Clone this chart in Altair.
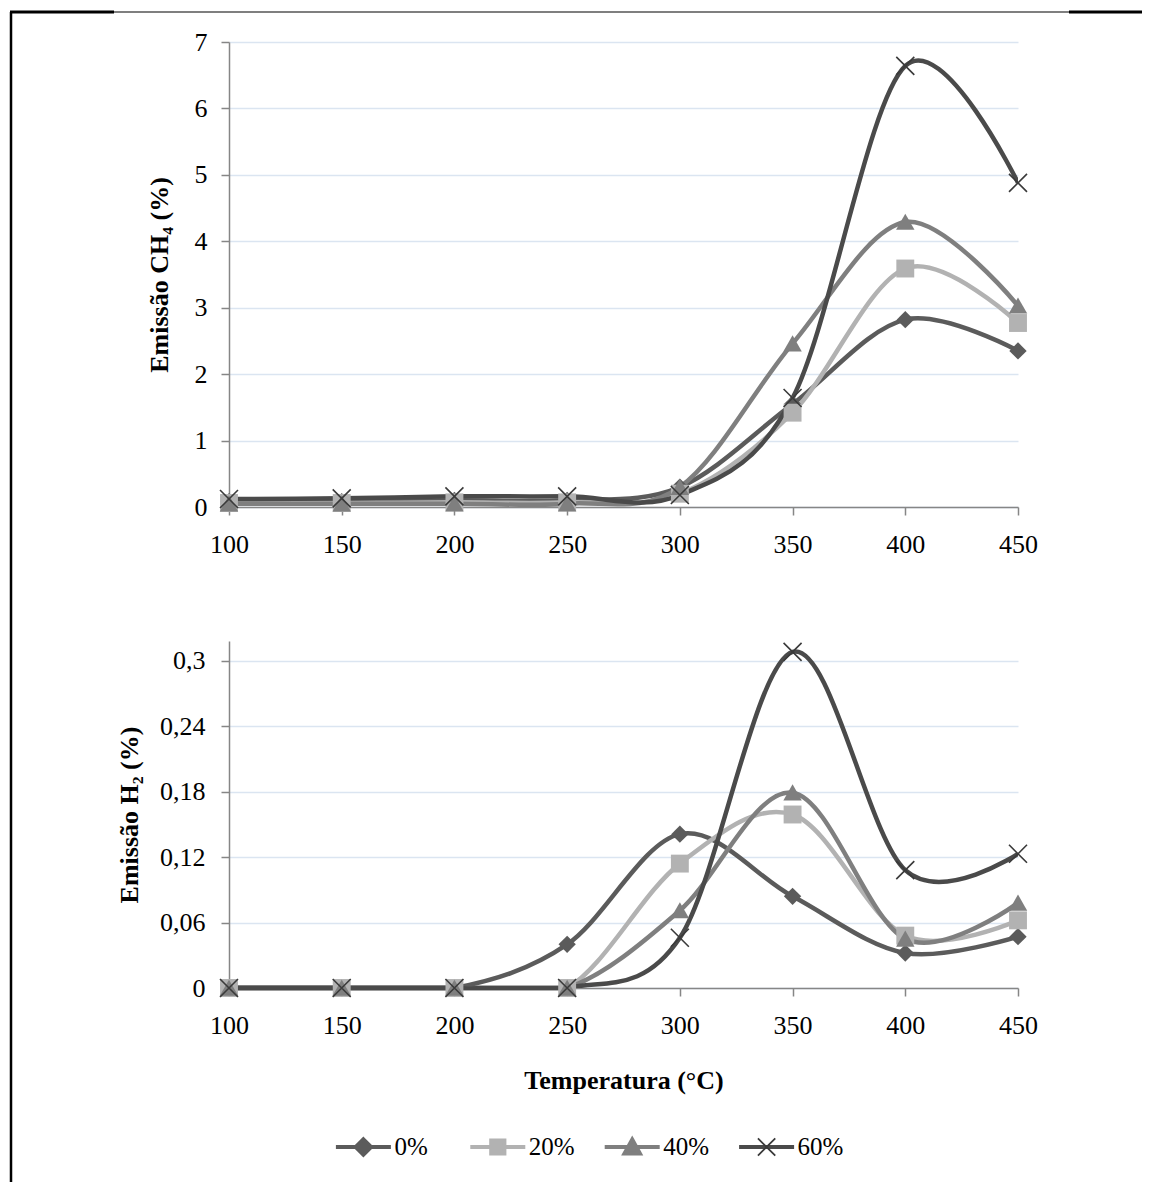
import altair as alt
import pandas as pd

# ---------------- data ----------------
temps = [100, 150, 200, 250, 300, 350, 400, 450]
series = ["0%", "20%", "40%", "60%"]

ch4_0 = [0.08, 0.08, 0.10, 0.10, 0.30, 1.55, 2.82, 2.35]
ch4_20 = [0.06, 0.06, 0.07, 0.07, 0.20, 1.42, 3.59, 2.77]
ch4_40 = [0.05, 0.05, 0.05, 0.05, 0.30, 2.46, 4.29, 3.03]
ch4_60 = [0.12, 0.13, 0.16, 0.16, 0.18, 1.64, 6.64, 4.88]

h2_0 = [0.0, 0.0, 0.0, 0.040, 0.141, 0.084, 0.032, 0.047]
h2_20 = [0.0, 0.0, 0.0, 0.0, 0.114, 0.159, 0.048, 0.062]
h2_40 = [0.0, 0.0, 0.0, 0.0, 0.071, 0.179, 0.045, 0.078]
h2_60 = [0.0, 0.0, 0.0, 0.0, 0.046, 0.308, 0.108, 0.123]

ch4_ticks = [0, 1, 2, 3, 4, 5, 6, 7]
h2_ticks = [0, 0.06, 0.12, 0.18, 0.24, 0.3]

colors = ["#5b5b5b", "#b2b2b2", "#7f7f7f", "#4a4a4a"]


def to_long(lists):
    rows = []
    for s, vals in zip(series, lists):
        for t, v in zip(temps, vals):
            rows.append({"temp": t, "series": s, "value": v})
    return pd.DataFrame(rows)


ch4_df = to_long([ch4_0, ch4_20, ch4_40, ch4_60])
h2_df = to_long([h2_0, h2_20, h2_40, h2_60])
legend_df = pd.DataFrame({"series": series})

FONT = "Liberation Serif"
color_scale = alt.Scale(domain=series, range=colors)
TRI = "M0,-0.9L1,0.85L-1,0.85Z"
shape_scale = alt.Scale(domain=series, range=["M0,-1L1,0L0,1L-1,0Z", "square", TRI, "circle"])
size_scale = alt.Scale(domain=series, range=[300, 361, 420, 324])
X_PATH = "M-1,-1L1,1M-1,1L1,-1"

# legend symbols: a line with the marker in its middle
legend_paths = [
    "M-1,0H1M0,-0.28L0.28,0L0,0.28L-0.28,0Z",
    "M-1,0H1M-0.24,-0.24H0.24V0.24H-0.24Z",
    "M-1,0H1M0,-0.27L0.28,0.24L-0.28,0.24Z",
    "M-1,0H1",
]

axis_common = dict(
    labelFont=FONT, labelFontSize=26, labelColor="black",
    titleFont=FONT, titleFontSize=26, titleFontWeight="bold", titleColor="black",
    domainColor="#868686", domainWidth=1.5, tickColor="#868686", tickWidth=1.5,
    tickSize=8, labelPadding=16, labelOverlap=False,
)


def panel(df, ydomain, yticks, ytitle, xtitle, height, label_expr, title_pad, y_label_pad):
    x = alt.X("temp:Q", scale=alt.Scale(domain=[100, 450], nice=False, zero=False),
              axis=alt.Axis(values=temps, grid=False, labelFlush=False, title=xtitle,
                            titlePadding=29, **axis_common))
    yaxis_kwargs = dict(axis_common)
    yaxis_kwargs["labelPadding"] = y_label_pad
    if label_expr:
        yaxis_kwargs["labelExpr"] = label_expr
    y = alt.Y("value:Q", scale=alt.Scale(domain=ydomain, nice=False, zero=True),
              axis=alt.Axis(values=yticks, grid=True, gridColor="#dbe5f1", gridWidth=1.5,
                            title=ytitle, titlePadding=title_pad, **yaxis_kwargs))
    base = alt.Chart(df)
    col = alt.Color("series:N", scale=color_scale, legend=None)
    # flat zero stretches drawn unclipped so they keep their full width on the axis
    zero_runs = base.transform_filter("datum.value === 0").mark_line(strokeWidth=4.5).encode(
        x=x, y=y, color=col)
    lines = base.mark_line(interpolate="cardinal", strokeWidth=4.5, clip=True).encode(
        x=x, y=y, color=col)
    filled = base.transform_filter("datum.series !== '60%'").mark_point(
        filled=True, opacity=1).encode(
        x=x, y=y, color=col,
        shape=alt.Shape("series:N", scale=shape_scale, legend=None),
        size=alt.Size("series:N", scale=size_scale, legend=None))
    crosses = base.transform_filter("datum.series === '60%'").mark_point(
        shape=X_PATH, filled=False, size=324, strokeWidth=1.6, color="#3a3a3a", opacity=1
    ).encode(x=x, y=y)
    return alt.layer(zero_runs, lines, filled, crosses).properties(width=789, height=height)


top = panel(ch4_df, [0, 7], ch4_ticks, "Emissão CH₄ (%)", None, 465, None, 22, 14)

# frame lines of the surrounding box (decoration)
one = pd.DataFrame({"k": [0]})
frame_left = alt.Chart(one).mark_rule(color="black", strokeWidth=2.5).encode(
    x=alt.value(-218), y=alt.value(-30), y2=alt.value(1140))
frame_top1 = alt.Chart(one).mark_rule(color="black", strokeWidth=3).encode(
    x=alt.value(-219), x2=alt.value(-115), y=alt.value(-30))
frame_top2 = alt.Chart(one).mark_rule(color="black", strokeWidth=1.2).encode(
    x=alt.value(-115), x2=alt.value(840), y=alt.value(-30))
frame_top3 = alt.Chart(one).mark_rule(color="black", strokeWidth=3).encode(
    x=alt.value(840), x2=alt.value(913), y=alt.value(-30))

top = alt.layer(top, frame_left, frame_top1, frame_top2, frame_top3)

bottom = panel(h2_df, [0, 0.318], h2_ticks, "Emissão H₂ (%)", "Temperatura (°C)", 347,
               "replace(format(datum.value, '.2~f'), '.', ',')", 17, 16)

# legend row: line + marker symbols and labels
leg_x = alt.X("series:N", scale=alt.Scale(type="point", domain=series, padding=1.174), axis=None)
leg_sym = alt.Chart(legend_df).mark_point(filled=True, size=3025, strokeWidth=4, opacity=1).encode(
    x=leg_x,
    shape=alt.Shape("series:N", scale=alt.Scale(domain=series, range=legend_paths), legend=None),
    color=alt.Color("series:N", scale=color_scale, legend=None),
    stroke=alt.Stroke("series:N", scale=color_scale, legend=None),
)
leg_cross = alt.Chart(legend_df).transform_filter("datum.series === '60%'").mark_point(
    shape=X_PATH, filled=False, size=300, strokeWidth=1.8, color="#3a3a3a", opacity=1
).encode(x=leg_x)
leg_txt = alt.Chart(legend_df).mark_text(
    align="left", baseline="middle", dx=31, font=FONT, fontSize=25, color="black"
).encode(x=leg_x, text="series:N")
legend_row = alt.layer(leg_sym, leg_cross, leg_txt).properties(width=672, height=50)

chart = alt.vconcat(top, bottom, legend_row, spacing=134, bounds="flush").resolve_scale(
    x="independent", y="independent", shape="independent", size="independent"
).properties(
    padding={"left": 0, "top": 2, "right": 0, "bottom": 0},
    background="white",
).configure_view(stroke=None)

chart.save("out.html", embed_options={"renderer": "svg", "actions": False})
